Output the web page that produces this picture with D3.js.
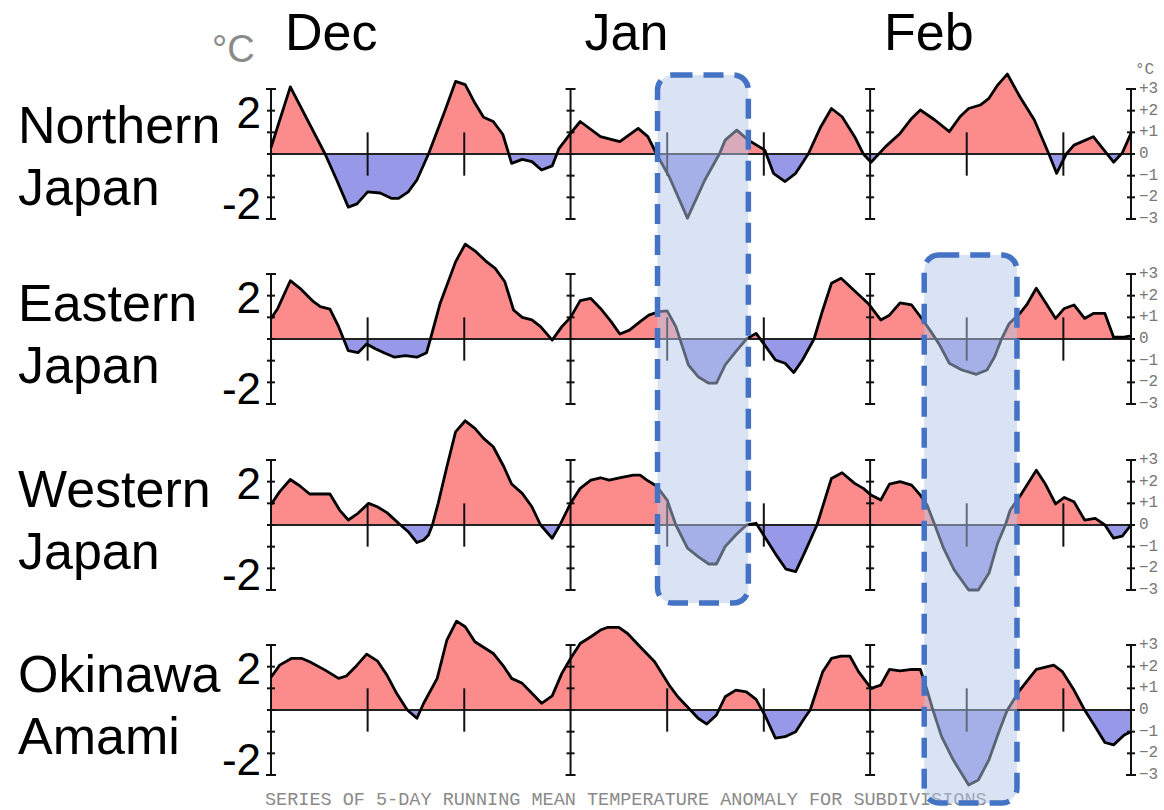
<!DOCTYPE html>
<html>
<head>
<meta charset="utf-8">
<script src="https://cdn.jsdelivr.net/npm/d3@7"></script>
<style>
  body { margin: 0; background: #fff; }
  svg { display: block; font-family: "Liberation Sans", Arial, sans-serif; }
</style>
</head>
<body>
<svg width="1164" height="810"></svg>
<script>
// region names (two lines each) and month labels
const regions = [["Northern", "Japan"], ["Eastern", "Japan"], ["Western", "Japan"], ["Okinawa", "Amami"]];
const months = ["Dec", "Jan", "Feb"];
const monthStartDays = [0, 31, 62];   // Dec 1, Jan 1, Feb 1
const lastDay = 89;                   // Feb 28
const shortTickDays = [10, 20, 41, 51, 72, 82];
const rightTickValues = [3, 2, 1, 0, -1, -2, -3];
const rightTickLabels = ["+3", "+2", "+1", "0", "\u22121", "\u22122", "\u22123"];

// 5-day running mean anomaly, [day since Dec 1, degC]
const northern = [[0,0.3],[2.0,3.1],[5.6,0],[6.8,-1.2],[8.0,-2.45],[8.9,-2.3],[10,-1.75],[11.3,-1.8],[12.5,-2.05],
  [13.2,-2.05],[14.2,-1.75],[15.1,-1.2],[16.3,0],[18.0,2.0],[19.1,3.35],[20.1,3.2],[21.1,2.35],[22.0,1.7],[23.0,1.5],
  [24.0,0.9],[24.9,-0.43],[26.0,-0.25],[27.0,-0.35],[28.0,-0.74],[29.1,-0.55],[29.8,0.25],[31,0.95],[32.0,1.5],
  [34.1,0.8],[36.1,0.57],[38.0,1.18],[39.0,0.8],[39.9,0],[41.2,-1.04],[43.1,-2.96],[44.9,-1.2],[46.4,0],[47.0,0.64],
  [48.2,1.1],[49.4,0.64],[51.1,0.18],[52.0,-0.89],[53.2,-1.27],[54.3,-0.89],[55.6,0],[56.9,1.26],[58.0,2.1],[59.1,1.72],
  [60.4,0.8],[61.3,0],[62.1,-0.38],[63.6,0.34],[65.1,0.95],[66.3,1.64],[67.2,2.03],[68.7,1.57],[70.2,1.03],[71.3,1.72],
  [72.2,2.1],[73.4,2.26],[74.3,2.57],[75.2,3.18],[76.2,3.69],[77.5,2.64],[79.0,1.57],[80.5,0],[81.3,-0.89],[82.3,0],
  [83.1,0.41],[85.1,0.8],[87.2,-0.38],[88.1,0.05],[89,0.95]];

const eastern = [[0,0.95],[0.7,1.41],[2.0,2.69],[3.0,2.34],[3.7,2.03],[4.4,1.72],[5.1,1.49],[6.1,1.38],[7.0,0.57],
  [8.0,-0.54],[9.0,-0.63],[9.9,-0.23],[10.8,-0.45],[11.8,-0.66],[12.8,-0.84],[13.9,-0.77],[15.1,-0.84],[16.1,-0.63],
  [16.5,0],[17.5,1.64],[19.1,3.56],[20.1,4.38],[21.1,4.07],[22.2,3.61],[23.2,3.26],[24.2,2.64],[25.1,1.34],[26.0,1.0],
  [27.0,0.88],[27.9,0.57],[29.1,-0.05],[30.1,0.57],[31.0,1.0],[32,1.77],[33.1,1.87],[34.1,1.41],[35.2,0.8],[36.1,0.23],
  [37.1,0.41],[38.2,0.8],[39.1,1.1],[40.1,1.26],[41.0,1.3],[41.9,0.57],[43.2,-1.2],[44.2,-1.74],[45.3,-2.04],[46.1,-2.04],
  [47.0,-1.2],[48.1,-0.58],[49.2,0],[50.2,0.26],[51.1,-0.28],[52.2,-0.97],[53.2,-1.12],[54.1,-1.55],[55.0,-0.97],[56.2,0],
  [57.1,1.34],[58.0,2.57],[59.0,2.8],[60.3,2.26],[61.8,1.64],[63.1,0.88],[64.0,1.1],[65.1,1.67],[66.3,1.57],[67.4,0.91],
  [68.3,0.34],[69.2,-0.28],[70.2,-1.12],[71.5,-1.43],[73.0,-1.63],[74.1,-1.43],[74.9,-0.81],[75.6,0],[76.4,0.72],
  [77.5,1.18],[78.2,1.57],[79.2,2.34],[80.1,1.72],[81.2,0.95],[82.1,1.41],[83.1,1.57],[84.2,0.95],[85.1,1.18],[86.3,1.18],
  [87.2,0.08],[88.1,0.08],[89,0.14]];

const western = [[0,0.95],[0.9,1.54],[2.0,2.1],[3.0,1.8],[4.0,1.43],[5.1,1.43],[6.1,1.43],[7.1,0.69],[8.0,0.23],
  [9.0,0.54],[10.1,1.0],[11.0,0.84],[12.0,0.57],[13.4,0],[14.2,-0.31],[15.1,-0.81],[15.8,-0.69],[16.3,-0.46],[16.7,0],
  [17.3,1.0],[18.2,2.69],[19.1,4.3],[20.1,4.81],[21.1,4.46],[22.0,4.0],[23.0,3.61],[24.1,2.69],[24.9,1.89],[26.0,1.46],
  [27.0,0.84],[27.9,0],[29.1,-0.61],[29.9,0],[31.0,1.0],[32.0,1.69],[33.1,2.07],[34.1,2.18],[35.0,2.07],[36.3,2.2],
  [37.5,2.3],[38.2,2.3],[38.9,2.07],[39.9,1.8],[41.0,1.15],[41.9,0],[43.1,-1.07],[44.2,-1.46],[45.3,-1.8],[46.1,-1.8],
  [47.0,-1.0],[48.1,-0.46],[49.2,0],[50.2,0.08],[51.3,-0.69],[52.4,-1.46],[53.3,-2.04],[54.3,-2.15],[55.2,-1.3],[56.5,0],
  [58.0,2.15],[59.1,2.41],[60.4,1.92],[61.3,1.69],[62.1,1.38],[63.1,1.15],[64.0,1.89],[65.1,2.0],[66.3,1.84],[67.2,1.38],
  [67.9,0.92],[68.7,0],[69.6,-1.07],[70.7,-2.07],[72.2,-3.0],[73.2,-3.0],[74.3,-2.23],[75.2,-0.84],[76.0,0],[76.5,0.69],
  [77.7,1.46],[79.2,2.53],[80.1,1.92],[81.2,0.97],[82.1,1.27],[83.1,1.07],[84.2,0.23],[85.3,0.31],[86.3,0],[87.2,-0.61],
  [88.1,-0.51],[89,0]];

const okinawa = [[0,1.51],[0.9,2.07],[2.1,2.38],[3.2,2.38],[4.0,2.23],[5.6,1.84],[7.0,1.46],[7.8,1.57],[8.9,2.07],
  [9.9,2.58],[11.0,2.27],[12.0,1.61],[13.0,0.77],[14.1,0],[15.1,-0.38],[15.8,0.31],[17.2,1.46],[18.2,3.23],[19.2,4.1],
  [20.1,3.84],[21.1,3.15],[22.2,2.84],[23.0,2.61],[24.1,2.0],[24.9,1.46],[26.0,1.23],[27.0,0.77],[28.0,0.31],[29.1,0.65],
  [30.1,1.69],[31.0,2.38],[32.0,3.07],[33.1,3.38],[34.1,3.69],[34.8,3.81],[36.0,3.81],[36.9,3.53],[38.2,2.92],[39.7,2.23],
  [41.2,1.15],[42.1,0.61],[43.4,0],[44.2,-0.38],[45.1,-0.65],[46.1,-0.23],[47.0,0.61],[48.1,0.92],[49.2,0.84],[50.2,0.49],
  [51.1,-0.23],[52.2,-1.3],[53.2,-1.23],[54.3,-1.0],[55.2,-0.38],[55.8,0],[57.1,1.77],[58.0,2.38],[59.0,2.49],[59.9,2.49],
  [60.8,1.77],[62.1,1.0],[63.1,1.15],[64.0,1.87],[65.1,1.81],[66.3,1.87],[67.2,1.87],[67.9,0.92],[68.5,0],[69.4,-1.23],
  [70.6,-2.3],[72.2,-3.46],[73.2,-3.23],[74.3,-2.3],[75.4,-0.92],[76.2,0],[77.5,0.92],[79.2,1.87],[81.0,2.07],[81.9,1.77],
  [83.1,0.92],[84.2,0],[85.3,-0.77],[86.3,-1.5],[87.2,-1.61],[88.3,-1.15],[89,-1.0]];

const series = [northern, eastern, western, okinawa];

// highlighted cold spells: day range and the panels they span
const highlights = [
  { from: 40.0, to: 49.4, firstPanel: 0, lastPanel: 2 },
  { from: 67.6, to: 77.2, firstPanel: 1, lastPanel: 3 }
];

const footnote = "SERIES OF 5-DAY RUNNING MEAN TEMPERATURE ANOMALY FOR SUBDIVISIONS";

// layout
const zeroY = [154, 339, 525, 710];
const halfH = 65;              // pixels for 3 degC
const labelShift = [7, 0, 0, 0];
const boxPad = [[79, 78], [84, 93]];

const svg = d3.select("svg");

const x = d3.scaleLinear().domain([0, lastDay]).range([271, 1131]);

const warm = "#fc8c8c";
const cold = "#9898e8";

// month names
svg.selectAll(".month")
  .data(months)
  .enter()
  .append("text")
  .attr("x", (d, i) => x(monthStartDays[i]) + 14)
  .attr("y", 50)
  .attr("font-size", 52)
  .text(d => d);

// unit at top left
svg.append("text")
  .attr("x", 212)
  .attr("y", 62)
  .attr("font-size", 38)
  .attr("fill", "#8a8a8a")
  .text("\u00b0C");

// unit at top right
svg.append("text")
  .attr("x", 1135)
  .attr("y", 74)
  .attr("font-family", "'Liberation Mono', monospace")
  .attr("font-size", 16)
  .attr("fill", "#777")
  .text("\u00b0C");

series.forEach((data, p) => {
  const zero = zeroY[p];
  const y = d3.scaleLinear().domain([-3, 3]).range([zero + halfH, zero - halfH]);
  const g = svg.append("g");

  // clip regions above and below zero
  const defs = g.append("defs");
  defs.append("clipPath").attr("id", "above" + p)
    .append("rect").attr("x", 0).attr("y", 0).attr("width", 1164).attr("height", y(0));
  defs.append("clipPath").attr("id", "below" + p)
    .append("rect").attr("x", 0).attr("y", y(0)).attr("width", 1164).attr("height", 810 - y(0));

  const area = d3.area()
    .x(d => x(d[0]))
    .y0(y(0))
    .y1(d => y(d[1]));

  g.append("path").datum(data)
    .attr("d", area)
    .attr("fill", warm)
    .attr("clip-path", `url(#above${p})`);

  g.append("path").datum(data)
    .attr("d", area)
    .attr("fill", cold)
    .attr("clip-path", `url(#below${p})`);

  // zero line
  g.append("line")
    .attr("x1", x(0)).attr("x2", x(lastDay))
    .attr("y1", y(0)).attr("y2", y(0))
    .attr("stroke", "#222")
    .attr("stroke-width", 2);

  // short ticks every 10 days
  g.selectAll(".short")
    .data(shortTickDays)
    .enter()
    .append("line")
    .attr("x1", d => x(d)).attr("x2", d => x(d))
    .attr("y1", y(1)).attr("y2", y(-1))
    .attr("stroke", "#111")
    .attr("stroke-width", 2);

  // full axes at month starts and at the end
  const axisDays = monthStartDays.concat([lastDay]);
  axisDays.forEach(day => {
    const ax = g.append("g").attr("transform", `translate(${x(day)},0)`);
    ax.append("line")
      .attr("y1", y(3)).attr("y2", y(-3))
      .attr("stroke", "#111").attr("stroke-width", 2);
    ax.selectAll("line.minor")
      .data(rightTickValues)
      .enter()
      .append("line")
      .attr("class", "minor")
      .attr("x1", d => Math.abs(d) === 3 ? -5 : -4)
      .attr("x2", d => Math.abs(d) === 3 ? 5 : 4)
      .attr("y1", d => y(d)).attr("y2", d => y(d))
      .attr("stroke", "#111").attr("stroke-width", 2);
  });

  // series line
  g.append("path").datum(data)
    .attr("d", d3.line().x(d => x(d[0])).y(d => y(d[1])))
    .attr("fill", "none")
    .attr("stroke", "#000")
    .attr("stroke-width", 2.8)
    .attr("stroke-linejoin", "round");

  // left labels 2 / -2
  g.append("text")
    .attr("x", 261).attr("y", y(2) + 2)
    .attr("text-anchor", "end")
    .attr("dominant-baseline", "central")
    .attr("font-size", 44)
    .text("2");
  g.append("text")
    .attr("x", 261).attr("y", y(-2) + 6)
    .attr("text-anchor", "end")
    .attr("dominant-baseline", "central")
    .attr("font-size", 44)
    .text("-2");

  // right tick labels
  g.selectAll(".rlab")
    .data(rightTickValues)
    .enter()
    .append("text")
    .attr("x", 1139)
    .attr("y", d => y(d))
    .attr("dominant-baseline", "central")
    .attr("font-family", "'Liberation Mono', monospace")
    .attr("font-size", 16)
    .attr("fill", "#777")
    .text((d, i) => rightTickLabels[i]);

  // region name
  g.selectAll(".region")
    .data(regions[p])
    .enter()
    .append("text")
    .attr("x", 18)
    .attr("y", (d, i) => zero - 18 + labelShift[p] + i * 62)
    .attr("font-size", 52)
    .text(d => d);
});

// footnote
svg.append("text")
  .attr("x", 265)
  .attr("y", 805)
  .attr("font-family", "'Liberation Mono', monospace")
  .attr("font-size", 18.5)
  .attr("fill", "#8a8a8a")
  .text(footnote);

// highlight boxes over the cold spells
svg.selectAll(".box")
  .data(highlights)
  .enter()
  .append("rect")
  .attr("x", d => x(d.from))
  .attr("y", (d, i) => zeroY[d.firstPanel] - boxPad[i][0])
  .attr("width", d => x(d.to) - x(d.from))
  .attr("height", (d, i) => zeroY[d.lastPanel] + boxPad[i][1] - (zeroY[d.firstPanel] - boxPad[i][0]))
  .attr("rx", 15)
  .attr("fill", "#b4c7e7")
  .attr("fill-opacity", 0.5)
  .attr("stroke", "#4472c4")
  .attr("stroke-width", 5.5)
  .attr("stroke-dasharray", "20 11");
</script>
</body>
</html>
